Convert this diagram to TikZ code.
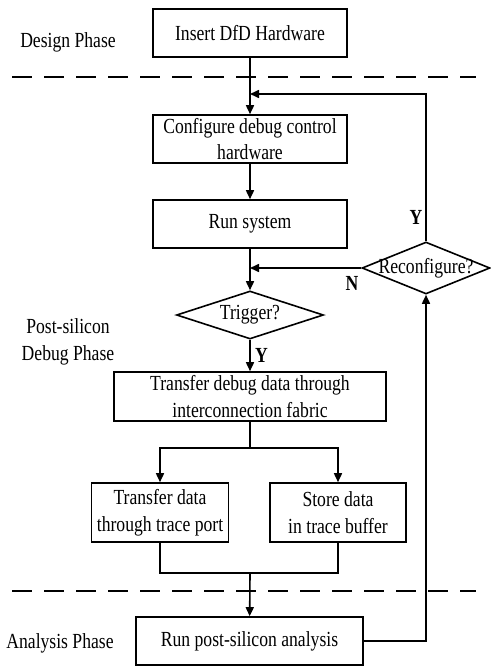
\documentclass[tikz,border=0pt]{standalone}
\usepackage{fontspec}
\setmainfont{Liberation Serif}[FakeStretch=0.82]
\usetikzlibrary{arrows.meta, shapes.geometric, positioning}

\begin{document}
\begin{tikzpicture}[x=1pt, y=-1pt, line width=1.6pt, >={Triangle[length=9pt, width=8pt]},
  every node/.style={font=\fontsize{21.5}{26.5}\selectfont},
  box/.style={draw, rectangle, align=center, inner sep=0pt},
  dia/.style={draw, diamond, inner sep=0pt},
  phase/.style={align=center},
  yn/.style={font=\fontsize{21.5}{26.5}\selectfont\bfseries},
  sep/.style={dash pattern=on 20pt off 12pt}]
  \useasboundingbox (0,0) rectangle (490,666);

  \node[box, minimum width=194pt, minimum height=48pt] (ins) at (250,33) {Insert DfD Hardware};
  \node[box, minimum width=194pt, minimum height=48pt] (cfg) at (250,139) {Configure debug control\\hardware};
  \node[box, minimum width=194pt, minimum height=48pt] (run) at (250,224) {Run system};
  \node[dia, minimum width=147pt, minimum height=48pt] (trg) at (250,315) {\makebox[0pt]{Trigger?}};
  \node[box, minimum width=272pt, minimum height=49pt] (xfer) at (250,396.5) {Transfer debug data through\\interconnection fabric};
  \node[box, minimum width=137pt, minimum height=59pt] (port) at (160,512.5) {Transfer data\\through trace port};
  \node[box, minimum width=136pt, minimum height=59pt] (buf) at (338,512.5) {Store data\\in trace buffer};
  \node[box, minimum width=227pt, minimum height=48pt] (ana) at (249.5,641) {Run post-silicon analysis};
  \node[dia, minimum width=128pt, minimum height=52pt] (rcf) at (426,268) {\makebox[0pt]{Reconfigure?}};

  \node[phase] (ph1) at (68,42) {Design Phase};
  \node[phase] (ph2) at (68,342) {Post-silicon\\Debug Phase};
  \node[phase] (ph3) at (60,643) {Analysis Phase};

  \coordinate (lp) at (250,94);
  \coordinate (nj) at (250,268);
  \coordinate (sp) at (250,448);
  \coordinate (jn) at (250,573);

  \draw[sep] (12,77) -- (476,77);
  \draw[sep] (12,591) -- (476,591);

  \draw[->] (ins) -- (cfg);
  \draw[->] (cfg) -- (run);
  \draw[->] (run) -- (trg);
  \draw[->] (trg) -- node[yn, right, xshift=1pt] (y1) {Y} (xfer);
  \draw (xfer) -- (sp);
  \draw[->] (sp) -| (port);
  \draw[->] (sp) -| (buf);
  \draw (port) |- (jn) -| (buf);
  \draw[->] (jn) -- (ana);
  \draw[->] (ana) -| (rcf);
  \draw[->] (rcf) |- (lp);
  \draw[->] (rcf) -- (nj);
  \node[yn] (y2) at (416,217) {Y};
  \node[yn] (n1) at (352,283) {N};
\end{tikzpicture}
\end{document}
